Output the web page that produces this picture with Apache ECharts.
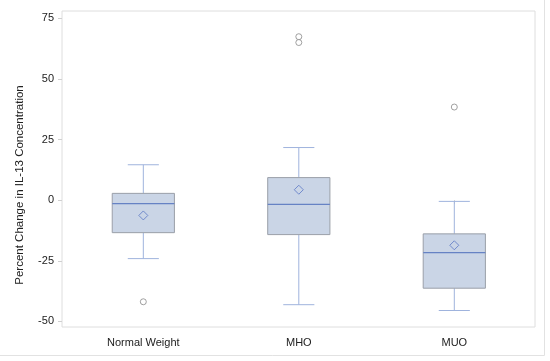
<!DOCTYPE html>
<html>
<head>
<meta charset="utf-8">
<script src="https://cdn.jsdelivr.net/npm/echarts@6/dist/echarts.min.js"></script>
<style>html,body{margin:0;padding:0;background:#fff;}#c{width:550px;height:361px;}</style>
</head>
<body>
<div id="c"></div>
<script>
// Data
var categories = ['Normal Weight', 'MHO', 'MUO'];
// [lower whisker, Q1, median, Q3, upper whisker]
var boxStats = [
  [-24.1, -13.4, -1.4, 2.8, 14.6],
  [-43.1, -14.2, -1.7, 9.3, 21.7],
  [-45.5, -36.3, -21.6, -13.9, -0.5]
];
var means = [-6.3, 4.3, -18.6];
// [category index, value]
var outliers = [
  [0, -41.9],
  [1, 67.4],
  [1, 65.0],
  [2, 38.4]
];
var yTicks = [-50, -25, 0, 25, 50, 75];
var yTitle = 'Percent Change in IL-13 Concentration';

var catPos = categories.map(function (c, i) { return i + 1; });
var boxData = boxStats.map(function (s, i) { return [catPos[i]].concat(s); });
var meanData = means.map(function (m, i) { return [catPos[i], m]; });
var outlierData = outliers.map(function (o) { return [catPos[o[0]], o[1]]; });

var chart = echarts.init(document.getElementById('c'), null, {renderer: 'canvas'});
var font = 'Liberation Sans, Arial, sans-serif';

chart.setOption({
  animation: false,
  backgroundColor: '#fff',
  grid: {left: 62, right: 15, top: 11, bottom: 34, show: true, borderColor: '#dedede', borderWidth: 1},
  xAxis: {
    type: 'value',
    min: 0.477,
    max: 3.519,
    axisLine: {show: false},
    axisTick: {show: true, length: 4, customValues: catPos, lineStyle: {color: '#d0d0d0'}},
    axisLabel: {
      color: '#222', fontFamily: font, fontSize: 11, margin: 10, customValues: catPos,
      formatter: function (v) { return categories[Math.round(v) - 1] || ''; }
    },
    splitLine: {show: false}
  },
  yAxis: {
    type: 'value',
    min: -52.3,
    max: 78,
    axisLine: {show: false},
    axisTick: {show: true, length: 4, customValues: yTicks, lineStyle: {color: '#d0d0d0'}},
    axisLabel: {color: '#222', fontFamily: font, fontSize: 11, margin: 8, customValues: yTicks},
    splitLine: {show: false}
  },
  graphic: [
    {type: 'line', shape: {x1: 0, y1: 355.5, x2: 544.5, y2: 355.5}, style: {stroke: '#e2e2e2', lineWidth: 1}, silent: true},
    {type: 'line', shape: {x1: 544.5, y1: 0, x2: 544.5, y2: 355.5}, style: {stroke: '#e2e2e2', lineWidth: 1}, silent: true},
    {type: 'text', x: 20, y: 185, rotation: Math.PI / 2, silent: true,
      style: {text: yTitle, fill: '#222', font: '11.5px ' + font, align: 'center', verticalAlign: 'middle'}}
  ],
  series: [
    {
      type: 'custom',
      data: boxData,
      encode: {x: 0, y: [1, 2, 3, 4, 5]},
      renderItem: function (params, api) {
        var i = api.value(0);
        var band = api.size([1, 0])[0];
        var bw = band * 0.4, cw = band * 0.2;
        var pLo = api.coord([i, api.value(1)]);
        var pQ1 = api.coord([i, api.value(2)]);
        var pMed = api.coord([i, api.value(3)]);
        var pQ3 = api.coord([i, api.value(4)]);
        var pHi = api.coord([i, api.value(5)]);
        var x = pMed[0];
        var wh = {stroke: '#9fb3dd', lineWidth: 1};
        return {
          type: 'group',
          children: [
            {type: 'line', shape: {x1: x, y1: pQ3[1], x2: x, y2: pHi[1]}, style: wh},
            {type: 'line', shape: {x1: x, y1: pQ1[1], x2: x, y2: pLo[1]}, style: wh},
            {type: 'line', shape: {x1: x - cw / 2, y1: pHi[1], x2: x + cw / 2, y2: pHi[1]}, style: wh},
            {type: 'line', shape: {x1: x - cw / 2, y1: pLo[1], x2: x + cw / 2, y2: pLo[1]}, style: wh},
            {type: 'rect', shape: {x: x - bw / 2, y: pQ3[1], width: bw, height: pQ1[1] - pQ3[1]},
              style: {fill: '#cad5e6', stroke: '#9a9fa8', lineWidth: 1}},
            {type: 'line', shape: {x1: x - bw / 2, y1: pMed[1], x2: x + bw / 2, y2: pMed[1]},
              style: {stroke: '#6682c4', lineWidth: 1.3}}
          ]
        };
      },
      z: 2
    },
    {
      type: 'scatter',
      data: meanData,
      symbol: 'diamond',
      symbolSize: [9, 9],
      itemStyle: {color: 'rgba(0,0,0,0)', borderColor: '#5b78c6', borderWidth: 1},
      z: 3
    },
    {
      type: 'scatter',
      data: outlierData,
      symbol: 'circle',
      symbolSize: 6,
      itemStyle: {color: '#fff', borderColor: '#8a8a8a', borderWidth: 1},
      z: 3
    }
  ]
});
</script>
</body>
</html>
